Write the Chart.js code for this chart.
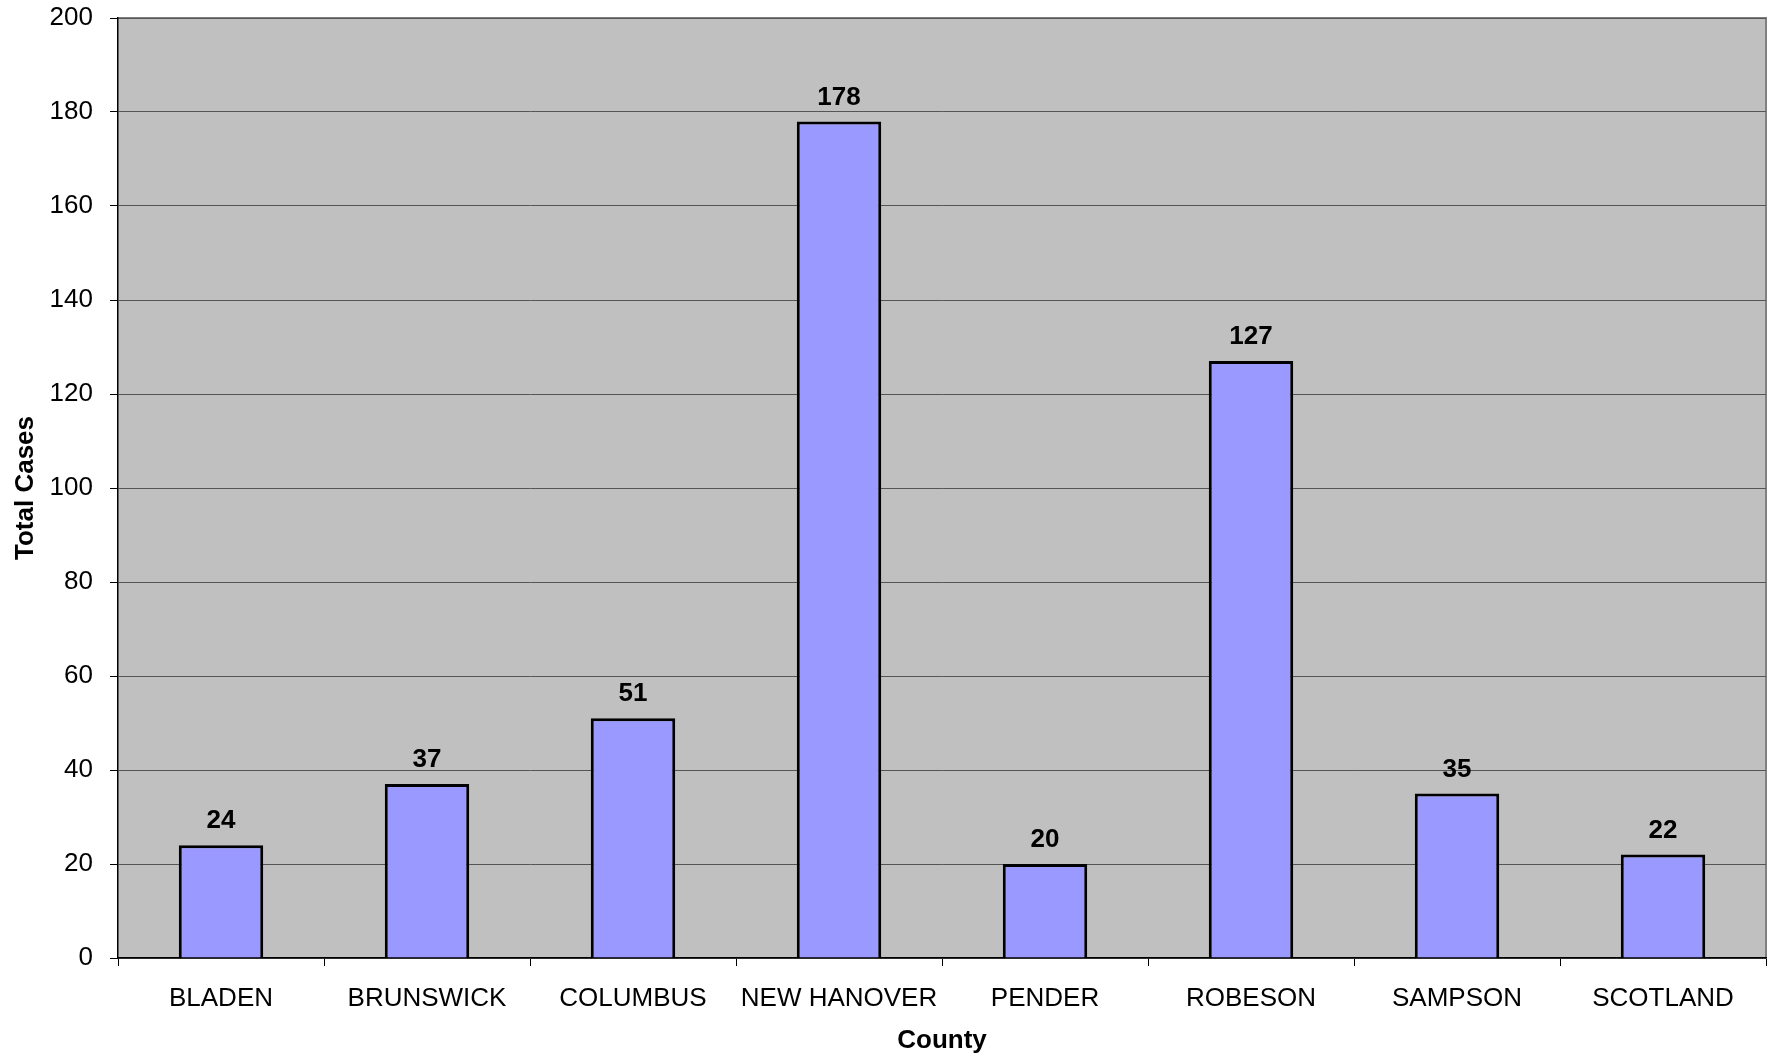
<!DOCTYPE html>
<html>
<head>
<meta charset="utf-8">
<script src="https://cdn.jsdelivr.net/npm/chart.js@4/dist/chart.umd.min.js"></script>
<style>
    html, body { margin: 0; padding: 0; background: #ffffff; }
    #wrap { width: 1771px; height: 1058px; }
</style>
</head>
<body>
<div id="wrap"><canvas id="canvas1"></canvas></div>
<script>
let counties = ["BLADEN", "BRUNSWICK", "COLUMBUS", "NEW HANOVER", "PENDER", "ROBESON", "SAMPSON", "SCOTLAND"];
let totalCases = [24, 37, 51, 178, 20, 127, 35, 22];
let yTicks = [0, 20, 40, 60, 80, 100, 120, 140, 160, 180, 200];

const FONT = "'Liberation Sans', Arial, sans-serif";

// grey plot area with the grey frame on top and right
let plotBack = {
    id: 'plotBack',
    beforeDraw: function (chart) {
        let a = chart.chartArea;
        let ctx = chart.ctx;
        ctx.save();
        ctx.fillStyle = '#C0C0C0';
        ctx.fillRect(a.left, a.top, a.right - a.left, a.bottom - a.top);
        ctx.strokeStyle = '#808080';
        ctx.lineWidth = 2;
        ctx.beginPath();
        ctx.moveTo(a.left, a.top);
        ctx.lineTo(a.right, a.top);
        ctx.lineTo(a.right, a.bottom);
        ctx.stroke();
        ctx.restore();
    }
};

// bold value above each bar
let barValues = {
    id: 'barValues',
    afterDatasetsDraw: function (chart) {
        let ctx = chart.ctx;
        let meta = chart.getDatasetMeta(0);
        ctx.save();
        ctx.font = "bold 26px " + FONT;
        ctx.fillStyle = '#000000';
        ctx.textAlign = 'center';
        ctx.textBaseline = 'bottom';
        meta.data.forEach(function (bar, i) {
            ctx.fillText(totalCases[i], bar.x, bar.y - 11);
        });
        ctx.restore();
    }
};

new Chart(document.getElementById('canvas1'), {
    type: 'bar',
    data: {
        labels: counties,
        datasets: [{
            label: 'Total Cases',
            data: totalCases,
            backgroundColor: '#9999FF',
            borderColor: '#000000',
            borderWidth: 3,
            barPercentage: 0.41,
            categoryPercentage: 1.0
        }]
    },
    options: {
        responsive: true,
        maintainAspectRatio: false,
        animation: false,
        layout: { padding: { top: 18, right: 5, left: 0, bottom: 0 } },
        plugins: {
            legend: { display: false },
            tooltip: { enabled: false }
        },
        scales: {
            x: {
                afterFit: function (scale) {
                    scale.height = 100;
                    scale.paddingLeft = 0;
                    scale.paddingRight = 0;
                },
                grid: {
                    offset: true,
                    drawOnChartArea: false,
                    drawTicks: true,
                    tickLength: 8,
                    color: '#000000'
                },
                border: { color: '#000000', width: 1.5 },
                ticks: {
                    color: '#000000',
                    padding: 17,
                    maxRotation: 0,
                    font: { family: FONT, size: 26 }
                },
                title: {
                    display: true,
                    text: 'County',
                    color: '#000000',
                    padding: { top: 4, bottom: 2 },
                    font: { family: FONT, size: 26, weight: 'bold' }
                }
            },
            y: {
                min: 0,
                max: 200,
                afterFit: function (scale) {
                    scale.width = 118;
                    scale.paddingTop = 0;
                    scale.paddingBottom = 0;
                },
                afterBuildTicks: function (scale) {
                    scale.ticks = yTicks.map(function (v) { return { value: v }; });
                },
                grid: {
                    color: '#555555',
                    lineWidth: 1,
                    drawTicks: true,
                    tickLength: 8,
                    tickColor: '#000000'
                },
                border: { color: '#000000', width: 1.5 },
                ticks: {
                    color: '#000000',
                    padding: 17,
                    font: { family: FONT, size: 26 }
                },
                title: {
                    display: true,
                    text: 'Total Cases',
                    color: '#000000',
                    padding: { top: 10, bottom: 4 },
                    font: { family: FONT, size: 26, weight: 'bold' }
                }
            }
        }
    },
    plugins: [plotBack, barValues]
});
</script>
</body>
</html>
